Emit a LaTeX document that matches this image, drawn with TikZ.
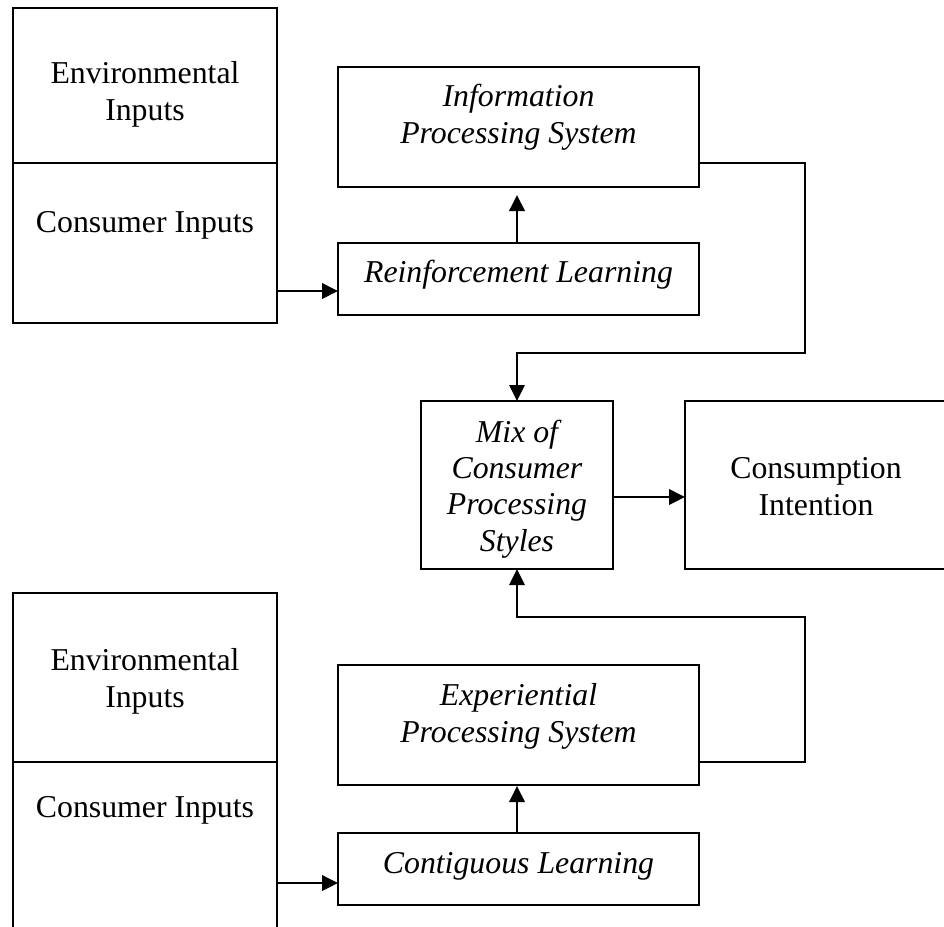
\documentclass[tikz,border=0pt]{standalone}
\usepackage{fontspec}
\setmainfont{Liberation Serif}
\usetikzlibrary{arrows.meta,fit,calc}
\begin{document}
\begin{tikzpicture}[x=1pt,y=-1pt,
  box/.style={draw, line width=2pt, inner sep=0pt, outer sep=0pt, rectangle},
  frame/.style={inner sep=0pt, outer sep=0pt, rectangle},
  txt/.style={anchor=base, inner sep=0pt, font=\fontsize{31.8}{37}\selectfont},
  itxt/.style={txt, font=\fontsize{31.8}{37}\selectfont\itshape},
  arr/.style={line width=2pt, -{Triangle[length=16pt,width=15.5pt]}},
  fb/.style={line width=1.6pt},
  fbarr/.style={line width=1.6pt, -{Triangle[length=16pt,width=15.5pt]}}]
\useasboundingbox (0,0) rectangle (944,926);
\fill[white] (0,0) rectangle (944,926);

% boxes
\node[box, fit={(13,8) (277,323)}] (inA) {};
\draw[line width=2pt] (13,163) -- (277,163);
\node[box, fit={(338,67) (699,187)}] (info) {};
\node[box, fit={(338,243) (699,315)}] (reinf) {};
\node[box, fit={(421,401) (613,569)}] (mix) {};
\node[box, fit={(685,401) (962,569)}] (cons) {};
\node[frame, fit={(13,593) (277,926)}] (inB) {};
\draw[line width=2pt] ([yshift=-10pt]inB.south west) -- (inB.north west) -- (inB.north east) -- ([yshift=-10pt]inB.south east);
\draw[line width=2pt] (13,762) -- (277,762);
\node[box, fit={(338,665) (699,785)}] (exp) {};
\node[box, fit={(338,833) (699,905)}] (cont) {};

% texts
\node[txt] (tA1) at (145,83) {Environmental};
\node[txt] (tA2) at (145,120) {Inputs};
\node[txt] (tA3) at (145,232) {Consumer Inputs};
\node[itxt] (tI1) at (518.5,106) {Information};
\node[itxt] (tI2) at (518.5,143) {Processing System};
\node[itxt] (tR1) at (518.5,282) {Reinforcement Learning};
\node[itxt] (tM1) at (517,442) {Mix of};
\node[itxt] (tM2) at (517,478) {Consumer};
\node[itxt] (tM3) at (517,514) {Processing};
\node[itxt] (tM4) at (517,551) {Styles};
\node[txt] (tC1) at (816,478) {Consumption};
\node[txt] (tC2) at (816,515) {Intention};
\node[txt] (tB1) at (145,670) {Environmental};
\node[txt] (tB2) at (145,707) {Inputs};
\node[txt] (tB3) at (145,817) {Consumer Inputs};
\node[itxt] (tE1) at (518.5,705) {Experiential};
\node[itxt] (tE2) at (518.5,742) {Processing System};
\node[itxt] (tG1) at (518.5,873) {Contiguous Learning};

% helper coordinates
\coordinate (ya) at (0,291);
\coordinate (yb) at (0,883);
\coordinate (ym) at (0,497);
\coordinate (xm) at (517,0);
\coordinate (ftop) at (805,353);
\coordinate (fbot) at (805,617);

% connectors
\draw[arr] (inA.east |- ya) -- (reinf.west |- ya);
\draw[arr, shorten >=8pt] (reinf.north -| xm) -- (info.south -| xm);
\draw[fbarr] ([yshift=24pt]info.south east) -| (ftop) -| (mix.north -| xm);
\draw[arr] (mix.east |- ym) -- (cons.west |- ym);
\draw[fbarr] ([yshift=23pt]exp.south east) -| (fbot) -| (mix.south -| xm);
\draw[arr, shorten >=1pt] (cont.north -| xm) -- (exp.south -| xm);
\draw[arr] (inB.east |- yb) -- (cont.west |- yb);
\end{tikzpicture}
\end{document}
